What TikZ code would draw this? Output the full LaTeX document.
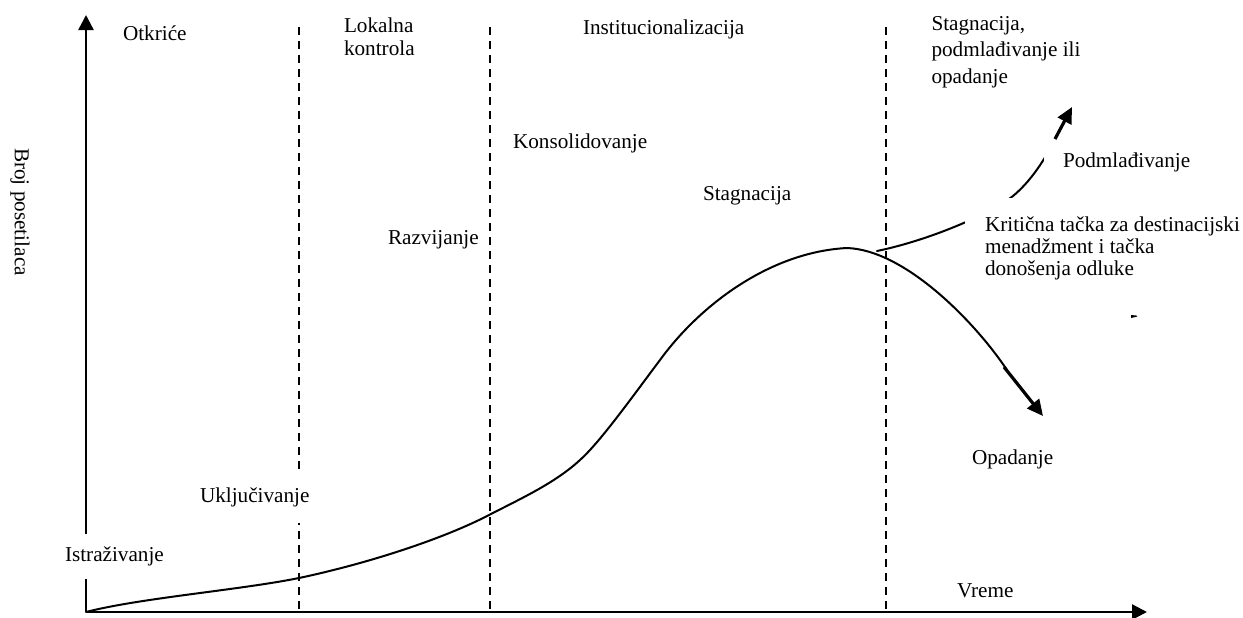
\documentclass[tikz,border=0pt]{standalone}
\usepackage{fontspec}
\setmainfont{Liberation Serif}
\usetikzlibrary{arrows.meta}
\begin{document}
\begin{tikzpicture}[x=0.5pt,y=-0.5pt,
  lbl/.style={font=\fontsize{10.6}{12}\selectfont, inner sep=0pt, outer sep=0pt},
  cover/.style={lbl, fill=white},
  axis/.style={line width=1.25pt, -{Triangle[length=7.5pt,width=7.5pt]}},
  phase/.style={line width=0.8pt, dash pattern=on 4pt off 3pt},
  curve/.style={line width=1pt, line join=round, line cap=round},
  endarrow/.style={line width=1.6pt, -{Triangle[length=8pt,width=7.5pt]}}]
\useasboundingbox (0,0) rectangle (1243,617);
% phase boundaries
\coordinate (dat) at (299,27); \coordinate (dab) at (299,612);
\coordinate (dbt) at (490,27); \coordinate (dbb) at (490,612);
\coordinate (dct) at (886,27); \coordinate (dcb) at (886,612);
\draw[phase] (dat) -- (dab);
\draw[phase] (dbt) -- (dbb);
\draw[phase] (dct) -- (dcb);
% axes
\coordinate (O) at (86,612);
\coordinate (Ytop) at (86,15);
\coordinate (Xend) at (1147,612);
\draw[axis] (O) -- (Ytop);
\draw[axis] (O) -- (Xend);
% main life-cycle curve
\coordinate (P1) at (299,578);
\coordinate (P2) at (489,515);
\coordinate (P3) at (580,460);
\coordinate (P4) at (660,360);
\coordinate (Peak) at (847,248);
\coordinate (P6) at (1007,370);
\draw[curve] (O) .. controls (140,598) and (240,590) .. (P1)
  .. controls (370,563) and (445,538) .. (P2)
  .. controls (522,498) and (555,483) .. (P3)
  .. controls (600,442) and (630,400) .. (P4)
  .. controls (700,305) and (770,252) .. (Peak)
  .. controls (905,250) and (975,322) .. (P6);
\coordinate (D1) at (1004,367);
\coordinate (D2) at (1043,416);
\draw[endarrow] (D1) -- (D2);
% rejuvenation branch
\coordinate (J) at (877,251);
\coordinate (B1) at (1013,196);
\coordinate (B2) at (1056,137);
\draw[curve] (J) .. controls (930,240) and (990,214) .. (B1)
  .. controls (1030,182) and (1045,160) .. (B2);
\coordinate (R1) at (1055,139);
\coordinate (R2) at (1072,107);
% small stray mark
\fill (1131,315) -- (1137,315.6) -- (1137,316.6) -- (1131,318) -- cycle;
% labels
\node[lbl, rotate=-90] (ylab) at (20,212) {Broj posetilaca};
\node[lbl, anchor=base west] (otk) at (123,40) {Otkriće};
\node[lbl, anchor=north west, align=left, font=\fontsize{10.6}{11.75}\selectfont] (lok) at (344,17.5) {Lokalna\\kontrola};
\node[lbl, anchor=base west] (raz) at (388,244) {Razvijanje};
\node[lbl, anchor=base west] (inst) at (583,34) {Institucionalizacija};
\node[lbl, anchor=base west] (kons) at (513,148) {Konsolidovanje};
\node[lbl, anchor=base west] (stag) at (703,200) {Stagnacija};
\node[lbl, anchor=north west, align=left, font=\fontsize{10.6}{13.15}\selectfont] (spo) at (931.5,16.4) {Stagnacija,\\podmlađivanje ili\\opadanje};
\node[cover, anchor=base west, inner xsep=9.5pt, inner ysep=7.25pt] (podm) at (1044,167) {Podmlađivanje};
\node[cover, anchor=north west, align=left, inner xsep=10pt, inner ysep=9.5pt, font=\fontsize{10.6}{10.85}\selectfont] (krit) at (965,198) {Kritična tačka za destinacijski\\menadžment i tačka\\donošenja odluke};
\node[lbl, anchor=base west] (opad) at (972,464) {Opadanje};
\node[lbl, anchor=base west] (vr) at (957,597) {Vreme};
\node[cover, anchor=base west, inner xsep=3pt, inner ysep=8pt] (ukl) at (194,502.7) {Uključivanje};
\node[cover, anchor=base west, inner xsep=3pt, inner ysep=6.5pt] (istr) at (59,561.7) {Istraživanje};
\draw[endarrow] (R1) -- (R2);
\end{tikzpicture}
\end{document}
